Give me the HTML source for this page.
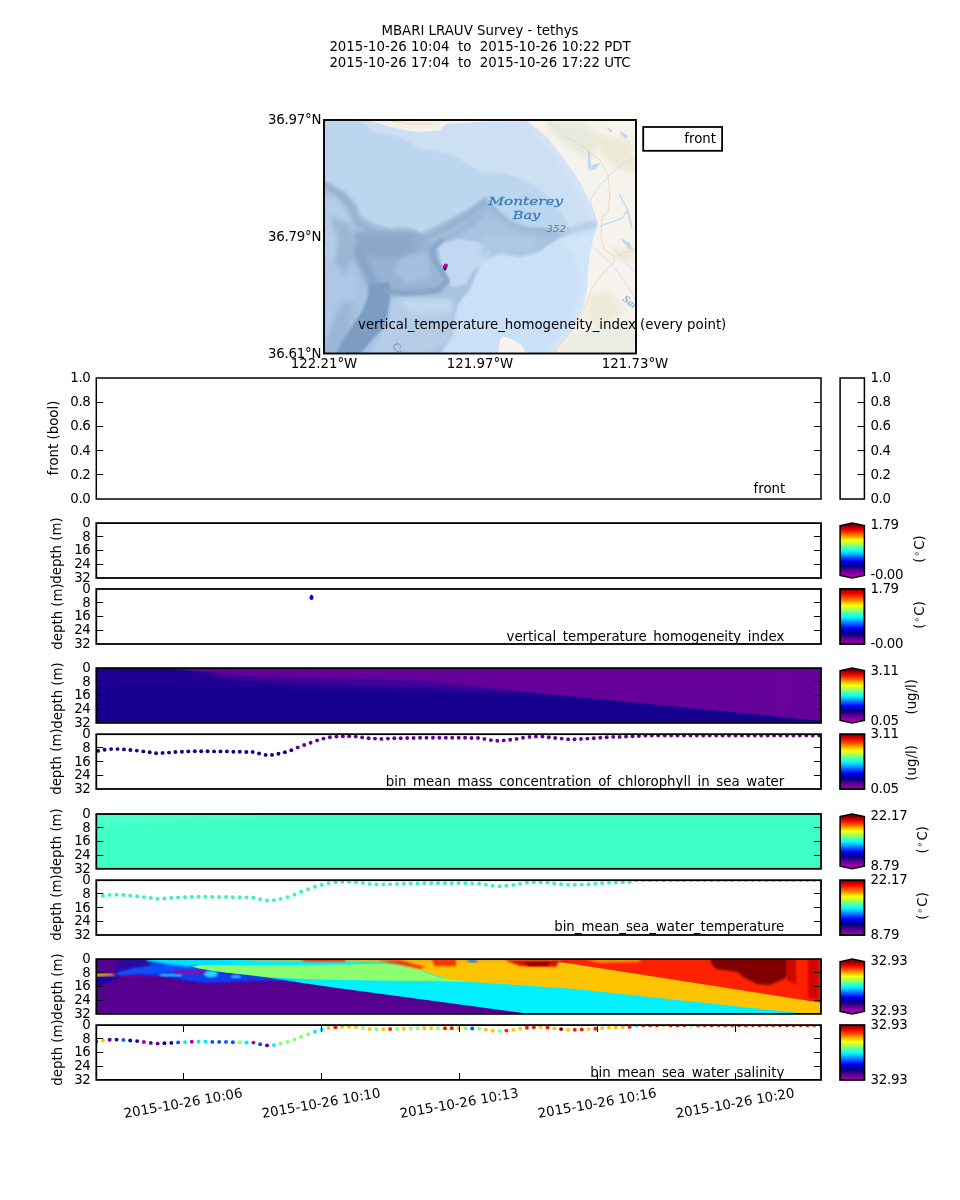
<!DOCTYPE html>
<html lang="en"><head><meta charset="utf-8"><title>MBARI LRAUV Survey - tethys</title>
<style>
html,body{margin:0;padding:0;background:#fff;}
svg{display:block;font-family:'DejaVu Sans', 'Liberation Sans', sans-serif;}
text{white-space:pre;}
</style></head><body>
<svg width="960" height="1200" viewBox="0 0 960 1200" xml:space="preserve">
<defs>
<linearGradient id="cm" x1="0" y1="1" x2="0" y2="0">
<stop offset="0" stop-color="#a800a8"/>
<stop offset="0.10" stop-color="#5a0098"/>
<stop offset="0.19" stop-color="#000080"/>
<stop offset="0.29" stop-color="#0000ff"/>
<stop offset="0.39" stop-color="#0080ff"/>
<stop offset="0.49" stop-color="#00ffff"/>
<stop offset="0.595" stop-color="#80ff80"/>
<stop offset="0.70" stop-color="#ffff00"/>
<stop offset="0.80" stop-color="#ff8000"/>
<stop offset="0.91" stop-color="#ff0000"/>
<stop offset="1" stop-color="#800000"/>
</linearGradient>
<linearGradient id="cme" x1="0" y1="1" x2="0" y2="0">
<stop offset="0" stop-color="#a800a8"/>
<stop offset="0.0474" stop-color="#a800a8"/>
<stop offset="0.1379" stop-color="#5a0098"/>
<stop offset="0.2194" stop-color="#000080"/>
<stop offset="0.3099" stop-color="#0000ff"/>
<stop offset="0.4004" stop-color="#0080ff"/>
<stop offset="0.4909" stop-color="#00ffff"/>
<stop offset="0.5860" stop-color="#80ff80"/>
<stop offset="0.6901" stop-color="#ffff00"/>
<stop offset="0.7806" stop-color="#ff8000"/>
<stop offset="0.8712" stop-color="#ff0000"/>
<stop offset="0.9526" stop-color="#800000"/>
<stop offset="1" stop-color="#800000"/>
</linearGradient>
<filter id="b1" x="-20%" y="-20%" width="140%" height="140%"><feGaussianBlur stdDeviation="1"/></filter>
<filter id="b2" x="-20%" y="-20%" width="140%" height="140%"><feGaussianBlur stdDeviation="2.5"/></filter>
<filter id="b4" x="-20%" y="-20%" width="140%" height="140%"><feGaussianBlur stdDeviation="4"/></filter>
<clipPath id="mapclip"><rect x="324" y="120" width="312" height="233.5"/></clipPath>
</defs>
<text x="480" y="35" text-anchor="middle" font-size="13.33" fill="#000">MBARI LRAUV Survey - tethys</text>
<text x="480" y="51" text-anchor="middle" font-size="13.33" fill="#000">2015-10-26 10:04  to  2015-10-26 10:22 PDT</text>
<text x="480" y="67" text-anchor="middle" font-size="13.33" fill="#000">2015-10-26 17:04  to  2015-10-26 17:22 UTC</text>
<g clip-path="url(#mapclip)">
<rect x="324" y="120" width="312" height="233" fill="#bdd6ef" stroke="none" stroke-width="1"/>
<polygon points="353.0,116.0 375.0,132.0 400.0,137.0 420.0,148.0 453.0,155.0 470.0,165.0 480.0,172.0 505.0,173.0 535.0,185.0 555.0,203.0 567.0,222.0 573.0,240.0 640.0,240.0 640.0,116.0" fill="#cde0f3" opacity="1" filter="url(#b1)"/>
<polygon points="500.0,116.0 530.0,125.0 548.0,145.0 565.0,170.0 580.0,195.0 590.0,215.0 596.0,230.0 640.0,230.0 640.0,116.0" fill="#d6e5f5" opacity="0.8" filter="url(#b2)"/>
<polygon points="480.0,262.0 500.0,255.0 520.0,258.0 540.0,252.0 555.0,240.0 573.0,232.0 640.0,232.0 640.0,360.0 430.0,360.0 452.0,335.0 453.0,322.0 458.0,305.0 470.0,290.0" fill="#c9e0f8" opacity="1" filter="url(#b1)"/>
<polygon points="560.0,240.0 600.0,232.0 600.0,300.0 585.0,330.0 560.0,353.0 545.0,353.0 570.0,320.0 580.0,290.0 575.0,260.0" fill="#d4e6f8" opacity="0.8" filter="url(#b2)"/>
<polygon points="320.0,178.0 334.0,186.7 347.0,193.0 355.7,203.0 360.7,215.0 374.0,223.0 390.7,228.0 402.0,226.7 410.7,228.0 420.7,233.0 430.7,228.0 447.0,220.0 465.7,210.0 480.7,200.0 486.0,196.0 492.0,203.0 500.0,212.0 512.0,222.0 530.0,228.0 545.0,228.0 560.0,232.0 556.0,240.0 540.0,250.0 520.0,256.0 500.0,252.0 482.0,260.0 470.0,288.0 458.0,303.0 453.0,322.0 452.0,335.0 437.0,360.0 320.0,360.0" fill="#a8c3e0" opacity="1" filter="url(#b1)"/>
<polygon points="358.0,232.0 404.0,236.0 432.0,240.0 436.0,262.0 444.0,282.0 440.0,294.0 392.0,297.0 370.0,292.0 360.0,272.0 352.0,250.0" fill="#93b0d2" opacity="0.85" filter="url(#b2)"/>
<polygon points="324.0,196.0 340.0,200.0 352.0,222.0 350.0,250.0 340.0,262.0 324.0,262.0" fill="#b5cfe9" opacity="0.9" filter="url(#b2)"/>
<polygon points="324.0,262.0 348.0,258.0 358.0,280.0 356.0,300.0 342.0,330.0 330.0,353.0 324.0,353.0" fill="#adc8e6" opacity="0.9" filter="url(#b2)"/>
<polygon points="398.0,258.0 425.0,250.0 430.0,264.0 432.0,278.0 408.0,284.0 394.0,274.0" fill="#a6c1e0" opacity="0.9" filter="url(#b2)"/>
<polygon points="437.0,242.0 460.0,239.0 484.0,243.0 492.0,252.0 484.0,262.0 474.0,270.0 466.0,284.0 452.0,288.0 447.0,276.0 441.0,262.0" fill="#c2daf3" opacity="0.95" filter="url(#b1)"/>
<polygon points="392.0,298.0 440.0,296.0 456.0,300.0 450.0,340.0 430.0,353.0 372.0,353.0 385.0,325.0" fill="#b6cee8" opacity="0.9" filter="url(#b2)"/>
<polygon points="400.0,300.0 450.0,300.0 452.0,312.0 410.0,314.0" fill="#c3daf2" opacity="0.8" filter="url(#b2)"/>
<polyline points="324.0,184.0 340.0,194.0 352.0,208.0 357.0,222.0 372.0,231.0 392.0,235.0 412.0,234.0 422.0,239.0 434.0,234.0 452.0,225.0 470.0,214.0 484.0,203.0" fill="none" stroke="#8ea9c9" stroke-width="5" opacity="0.9" stroke-linecap="round" stroke-linejoin="round" filter="url(#b2)"/>
<polyline points="484.0,203.0 495.0,212.0 510.0,224.0 528.0,231.0 545.0,231.0 558.0,234.0" fill="none" stroke="#94afce" stroke-width="4" opacity="0.9" stroke-linecap="round" stroke-linejoin="round" filter="url(#b2)"/>
<polygon points="354.0,232.0 413.0,234.0 418.0,250.0 400.0,258.0 372.0,258.0 356.0,250.0" fill="#8ba7c8" opacity="0.9" filter="url(#b2)"/>
<polygon points="330.0,215.0 350.0,225.0 356.0,250.0 345.0,275.0 335.0,262.0 338.0,240.0" fill="#96b1cf" opacity="0.8" filter="url(#b2)"/>
<polyline points="358.0,252.0 366.0,268.0 374.0,284.0 378.0,296.0" fill="none" stroke="#86a3c6" stroke-width="9" opacity="0.9" stroke-linecap="round" stroke-linejoin="round" filter="url(#b2)"/>
<polygon points="369.0,284.0 390.0,282.0 390.0,300.0 388.0,312.0 385.0,326.7 371.7,340.0 361.7,352.0 358.0,360.0 332.0,360.0 336.0,352.0 341.7,340.0 351.7,326.7 363.0,310.0 368.0,296.0" fill="#7c9cc2" opacity="1" filter="url(#b1)"/>
<polygon points="340.0,305.0 354.0,300.0 348.0,330.0 334.0,360.0 318.0,360.0 330.0,330.0" fill="#93afcf" opacity="0.7" filter="url(#b2)"/>
<polyline points="386.0,291.0 405.0,293.0 425.0,292.0 440.0,289.0 447.0,281.0 442.0,272.0 434.0,259.0 433.0,248.0 441.0,241.0" fill="none" stroke="#88a5c7" stroke-width="5.5" opacity="0.95" stroke-linecap="round" stroke-linejoin="round" filter="url(#b1)"/>
<polyline points="441.0,241.0 455.0,234.0 470.0,224.0 484.0,212.0" fill="none" stroke="#8eaaca" stroke-width="4" opacity="0.8" stroke-linecap="round" stroke-linejoin="round" filter="url(#b2)"/>
<polyline points="484.0,214.0 500.0,222.0 520.0,232.0 540.0,236.0 556.0,236.0 572.0,230.0 586.0,226.0 596.0,224.0" fill="none" stroke="#a5c0de" stroke-width="4" opacity="0.9" stroke-linecap="round" stroke-linejoin="round" filter="url(#b2)"/>
<polygon points="482.0,236.0 535.0,236.0 537.0,249.0 520.0,254.0 500.0,250.0 482.0,256.0" fill="#afc9e4" opacity="0.9" filter="url(#b2)"/>
<polygon points="368.0,116.0 372.0,121.0 390.0,127.0 405.0,130.0 420.0,132.0 440.0,130.0 446.0,124.0 480.0,122.0 527.0,121.0 547.0,137.0 567.0,163.0 580.0,182.0 588.0,198.0 595.0,216.0 598.0,224.0 594.0,236.0 590.0,252.0 588.0,268.0 587.0,290.0 583.0,308.0 573.0,328.0 563.0,342.0 550.0,360.0 640.0,360.0 640.0,116.0" fill="#f5f3ec" opacity="1"/>
<polygon points="497.0,360.0 500.0,340.0 503.0,336.0 513.0,340.0 522.0,345.0 529.0,360.0" fill="#f5f3ec" opacity="1"/>
<polygon points="545.0,122.0 585.0,122.0 600.0,140.0 590.0,160.0 572.0,150.0 556.0,136.0" fill="#e6e9db" opacity="0.9" filter="url(#b2)"/>
<polygon points="595.0,135.0 630.0,140.0 636.0,172.0 615.0,168.0 600.0,152.0" fill="#ece8d2" opacity="0.9" filter="url(#b2)"/>
<polygon points="590.0,295.0 612.0,292.0 622.0,312.0 600.0,330.0 586.0,318.0" fill="#edead8" opacity="0.95" filter="url(#b2)"/>
<polygon points="612.0,250.0 636.0,246.0 636.0,262.0 620.0,262.0" fill="#edead8" opacity="0.9" filter="url(#b2)"/>
<polygon points="570.0,335.0 636.0,322.0 636.0,353.0 556.0,353.0" fill="#e9ece1" opacity="0.95" filter="url(#b2)"/>
<polygon points="380.0,121.0 440.0,121.0 440.0,128.0 400.0,128.0" fill="#f3efe0" opacity="0.9" filter="url(#b1)"/>
<polyline points="392.0,121.0 410.0,124.0 432.0,124.0" fill="none" stroke="#f5cfc0" stroke-width="0.8" opacity="1" stroke-linecap="round" stroke-linejoin="round"/>
<polyline points="548.0,121.0 562.0,135.0 585.0,148.0 600.0,160.0 608.0,175.0 610.0,195.0 608.0,212.0 602.0,218.0 601.0,236.0 604.0,250.0 613.0,255.0 614.0,262.0 604.0,272.0 592.0,288.0 586.0,305.0 578.0,322.0 562.0,343.0 553.0,353.0" fill="none" stroke="#f5d0c0" stroke-width="0.9" opacity="1" stroke-linecap="round" stroke-linejoin="round"/>
<polyline points="614.0,258.0 625.0,252.0 636.0,249.0" fill="none" stroke="#f5d0c0" stroke-width="0.9" opacity="1" stroke-linecap="round" stroke-linejoin="round"/>
<polyline points="597.0,224.0 590.0,200.0 600.0,185.0 615.0,170.0 625.0,162.0 636.0,158.0" fill="none" stroke="#c8dcf1" stroke-width="0.9" opacity="1" stroke-linecap="round" stroke-linejoin="round"/>
<polyline points="594.0,248.0 610.0,262.0 620.0,275.0 630.0,290.0 636.0,300.0" fill="none" stroke="#cadef2" stroke-width="0.9" opacity="1" stroke-linecap="round" stroke-linejoin="round"/>
<polyline points="612.0,247.0 625.0,260.0 634.0,272.0" fill="none" stroke="#cadef2" stroke-width="0.8" opacity="1" stroke-linecap="round" stroke-linejoin="round"/>
<polyline points="600.0,226.0 612.0,222.0 622.0,218.0 628.0,210.0 622.0,200.0 620.0,195.0" fill="none" stroke="#bdd5ef" stroke-width="1.2" opacity="1" stroke-linecap="round" stroke-linejoin="round"/>
<polyline points="628.0,212.0 632.0,228.0" fill="none" stroke="#bdd5ef" stroke-width="1.5" opacity="1" stroke-linecap="round" stroke-linejoin="round"/>
<polygon points="588.0,152.0 590.0,150.0 591.0,168.0 588.0,170.0" fill="#c0d7f0" opacity="1"/>
<polygon points="592.0,165.0 600.0,163.0 596.0,169.0 590.0,171.0" fill="#c0d7f0" opacity="1"/>
<polygon points="606.0,127.0 612.0,130.0 611.0,133.0" fill="#c0d7f0" opacity="1"/>
<polygon points="620.0,131.0 628.0,136.0 626.0,139.0 621.0,135.0" fill="#c0d7f0" opacity="1"/>
<polygon points="620.0,238.0 630.0,243.0 633.0,250.0 628.0,248.0" fill="#c0d7f0" opacity="1"/>
<text transform="translate(488.4 204.7) scale(1.331 1)" font-family="'DejaVu Serif', 'Liberation Serif', serif" font-style="italic" font-size="11.5" fill="#2f74b8" stroke="#2f74b8" stroke-width="0.3" opacity="0.92">Monterey</text>
<text transform="translate(512.8 218.8) scale(1.257 1)" font-family="'DejaVu Serif', 'Liberation Serif', serif" font-style="italic" font-size="11.5" fill="#2f74b8" stroke="#2f74b8" stroke-width="0.3" opacity="0.92">Bay</text>
<text transform="translate(546.6 232) scale(1.135 1)" font-family="'DejaVu Sans', sans-serif" font-style="italic" font-size="9" fill="#6b7785">352</text>
<text x="622" y="300" font-family="'DejaVu Serif', serif" font-style="italic" font-size="9" fill="#5a94d0" transform="rotate(38 622 300)">Sal</text>
<text x="392" y="345" font-family="'DejaVu Sans', sans-serif" font-size="10" fill="#8594a5" transform="rotate(62 392 345)">Ca</text>
<polygon points="443.0,266.0 447.0,266.0 446.5,269.0 445.0,271.0 443.5,269.0" fill="#1a1a2e" opacity="1"/>
<circle cx="445.8" cy="265.7" r="2.2" fill="#c400b0"/>
</g>
<rect x="324.0" y="120.0" width="312" height="233.5" fill="none" stroke="#000" stroke-width="1.9"/>
<text x="321.3" y="124" text-anchor="end" font-size="13.33" fill="#000" letter-spacing="-0.2">36.97°N</text>
<text x="321.3" y="241" text-anchor="end" font-size="13.33" fill="#000" letter-spacing="-0.2">36.79°N</text>
<text x="321.3" y="358" text-anchor="end" font-size="13.33" fill="#000" letter-spacing="-0.2">36.61°N</text>
<text x="324" y="368" text-anchor="middle" font-size="13.33" fill="#000">122.21°W</text>
<text x="480" y="368" text-anchor="middle" font-size="13.33" fill="#000">121.97°W</text>
<text x="635" y="368" text-anchor="middle" font-size="13.33" fill="#000">121.73°W</text>
<text x="358" y="329" text-anchor="start" font-size="13.33" fill="#000">vertical_temperature_homogeneity_index (every point)</text>
<rect x="643.2" y="127" width="78.9" height="23.8" fill="#fff" stroke="#000" stroke-width="1.8"/>
<text x="716" y="143" text-anchor="end" font-size="13.33" fill="#000">front</text>
<rect x="96.3" y="378.0" width="724.7" height="121.0" fill="none" stroke="#000" stroke-width="1.5"/>
<line x1="96.3" y1="402.5" x2="103.3" y2="402.5" stroke="#000" stroke-width="1"/>
<line x1="814.0" y1="402.5" x2="821.0" y2="402.5" stroke="#000" stroke-width="1"/>
<line x1="96.3" y1="426.5" x2="103.3" y2="426.5" stroke="#000" stroke-width="1"/>
<line x1="814.0" y1="426.5" x2="821.0" y2="426.5" stroke="#000" stroke-width="1"/>
<line x1="96.3" y1="450.5" x2="103.3" y2="450.5" stroke="#000" stroke-width="1"/>
<line x1="814.0" y1="450.5" x2="821.0" y2="450.5" stroke="#000" stroke-width="1"/>
<line x1="96.3" y1="474.5" x2="103.3" y2="474.5" stroke="#000" stroke-width="1"/>
<line x1="814.0" y1="474.5" x2="821.0" y2="474.5" stroke="#000" stroke-width="1"/>
<text x="90.3" y="381.9" text-anchor="end" font-size="13.33" fill="#000" letter-spacing="-0.4">1.0</text>
<text x="90.3" y="406.09999999999997" text-anchor="end" font-size="13.33" fill="#000" letter-spacing="-0.4">0.8</text>
<text x="90.3" y="430.29999999999995" text-anchor="end" font-size="13.33" fill="#000" letter-spacing="-0.4">0.6</text>
<text x="90.3" y="454.5" text-anchor="end" font-size="13.33" fill="#000" letter-spacing="-0.4">0.4</text>
<text x="90.3" y="478.7" text-anchor="end" font-size="13.33" fill="#000" letter-spacing="-0.4">0.2</text>
<text x="90.3" y="502.9" text-anchor="end" font-size="13.33" fill="#000" letter-spacing="-0.4">0.0</text>
<text x="58" y="438" text-anchor="middle" font-size="13.33" fill="#000" transform="rotate(-90 58 438)">front (bool)</text>
<text x="785.3" y="493.3" text-anchor="end" font-size="13.33" fill="#000">front</text>
<rect x="840.1" y="378.0" width="24.299999999999955" height="121.0" fill="none" stroke="#000" stroke-width="1.5"/>
<text x="870.5" y="381.9" text-anchor="start" font-size="13.33" fill="#000" letter-spacing="-0.4">1.0</text>
<line x1="857.4" y1="402.5" x2="864.4" y2="402.5" stroke="#000" stroke-width="1"/>
<text x="870.5" y="406.09999999999997" text-anchor="start" font-size="13.33" fill="#000" letter-spacing="-0.4">0.8</text>
<line x1="857.4" y1="426.5" x2="864.4" y2="426.5" stroke="#000" stroke-width="1"/>
<text x="870.5" y="430.29999999999995" text-anchor="start" font-size="13.33" fill="#000" letter-spacing="-0.4">0.6</text>
<line x1="857.4" y1="450.5" x2="864.4" y2="450.5" stroke="#000" stroke-width="1"/>
<text x="870.5" y="454.5" text-anchor="start" font-size="13.33" fill="#000" letter-spacing="-0.4">0.4</text>
<line x1="857.4" y1="474.5" x2="864.4" y2="474.5" stroke="#000" stroke-width="1"/>
<text x="870.5" y="478.7" text-anchor="start" font-size="13.33" fill="#000" letter-spacing="-0.4">0.2</text>
<text x="870.5" y="502.9" text-anchor="start" font-size="13.33" fill="#000" letter-spacing="-0.4">0.0</text>
<clipPath id="acd0"><rect x="96.3" y="589.0" width="724.7" height="55.0"/></clipPath>
<g clip-path="url(#acd0)">
<ellipse cx="311.5" cy="597.4" rx="2.0" ry="2.6" fill="#0000f0"/>
</g>
<text x="90.3" y="527.0" text-anchor="end" font-size="13.33" fill="#000" letter-spacing="-0.45">0</text>
<text x="90.3" y="540.725" text-anchor="end" font-size="13.33" fill="#000" letter-spacing="-0.45">8</text>
<text x="90.3" y="554.4499999999999" text-anchor="end" font-size="13.33" fill="#000" letter-spacing="-0.45">16</text>
<text x="90.3" y="568.175" text-anchor="end" font-size="13.33" fill="#000" letter-spacing="-0.45">24</text>
<text x="90.3" y="581.9" text-anchor="end" font-size="13.33" fill="#000" letter-spacing="-0.45">32</text>
<line x1="96.3" y1="536.5" x2="103.3" y2="536.5" stroke="#000" stroke-width="1"/>
<line x1="814.0" y1="536.5" x2="821.0" y2="536.5" stroke="#000" stroke-width="1"/>
<line x1="96.3" y1="550.5" x2="103.3" y2="550.5" stroke="#000" stroke-width="1"/>
<line x1="814.0" y1="550.5" x2="821.0" y2="550.5" stroke="#000" stroke-width="1"/>
<line x1="96.3" y1="564.5" x2="103.3" y2="564.5" stroke="#000" stroke-width="1"/>
<line x1="814.0" y1="564.5" x2="821.0" y2="564.5" stroke="#000" stroke-width="1"/>
<text x="61.5" y="550.55" text-anchor="middle" font-size="13.33" fill="#000" transform="rotate(-90 61.5 550.55)">depth (m)</text>
<text x="90.3" y="592.9" text-anchor="end" font-size="13.33" fill="#000" letter-spacing="-0.45">0</text>
<text x="90.3" y="606.65" text-anchor="end" font-size="13.33" fill="#000" letter-spacing="-0.45">8</text>
<text x="90.3" y="620.4" text-anchor="end" font-size="13.33" fill="#000" letter-spacing="-0.45">16</text>
<text x="90.3" y="634.15" text-anchor="end" font-size="13.33" fill="#000" letter-spacing="-0.45">24</text>
<text x="90.3" y="647.9" text-anchor="end" font-size="13.33" fill="#000" letter-spacing="-0.45">32</text>
<line x1="96.3" y1="602.5" x2="103.3" y2="602.5" stroke="#000" stroke-width="1"/>
<line x1="814.0" y1="602.5" x2="821.0" y2="602.5" stroke="#000" stroke-width="1"/>
<line x1="96.3" y1="616.5" x2="103.3" y2="616.5" stroke="#000" stroke-width="1"/>
<line x1="814.0" y1="616.5" x2="821.0" y2="616.5" stroke="#000" stroke-width="1"/>
<line x1="96.3" y1="630.5" x2="103.3" y2="630.5" stroke="#000" stroke-width="1"/>
<line x1="814.0" y1="630.5" x2="821.0" y2="630.5" stroke="#000" stroke-width="1"/>
<text x="61.5" y="616.5" text-anchor="middle" font-size="13.33" fill="#000" transform="rotate(-90 61.5 616.5)">depth (m)</text>
<text x="784.3" y="641.0" text-anchor="end" font-size="13.33" fill="#000">vertical_temperature_homogeneity_index</text>
<rect x="96.3" y="523.1" width="724.7" height="54.89999999999998" fill="none" stroke="#000" stroke-width="1.8"/>
<rect x="96.3" y="589.0" width="724.7" height="55.0" fill="none" stroke="#000" stroke-width="1.8"/>
<polygon points="840.1,525.7 852.25,523.1 864.4,525.7 864.4,575.4 852.25,578.0 840.1,575.4" fill="url(#cme)" stroke="#000" stroke-width="1.5" stroke-linejoin="miter"/>
<text x="870.5" y="528.7" text-anchor="start" font-size="13.33" fill="#000" letter-spacing="-0.4">1.79</text>
<text x="870.5" y="578.7" text-anchor="start" font-size="13.33" fill="#000" letter-spacing="-0.4">-0.00</text>
<text x="924.3" y="548.9499999999999" text-anchor="middle" font-size="13.33" fill="#000" transform="rotate(-90 924.3 548.9499999999999)">(<tspan font-size="9.33" dy="-4.7" dx="0.8">&#8728;</tspan><tspan dy="4.7" dx="1.2">C)</tspan></text>
<rect x="840.1" y="589.0" width="24.299999999999955" height="55.0" fill="url(#cm)" stroke="#000" stroke-width="1.9"/>
<text x="870.5" y="592.9" text-anchor="start" font-size="13.33" fill="#000" letter-spacing="-0.4">1.79</text>
<text x="870.5" y="647.9" text-anchor="start" font-size="13.33" fill="#000" letter-spacing="-0.4">-0.00</text>
<text x="924.3" y="614.9" text-anchor="middle" font-size="13.33" fill="#000" transform="rotate(-90 924.3 614.9)">(<tspan font-size="9.33" dy="-4.7" dx="0.8">&#8728;</tspan><tspan dy="4.7" dx="1.2">C)</tspan></text>
<clipPath id="acc1"><rect x="96.3" y="668.1" width="724.7" height="54.799999999999955"/></clipPath>
<g clip-path="url(#acc1)">
<rect x="96.3" y="668.1" width="724.7" height="54.799999999999955" fill="#15008f" stroke="none" stroke-width="1"/>
<polygon points="96.0,668.0 159.0,668.5 250.0,677.0 420.0,681.0 460.0,686.0 600.0,700.0 400.0,693.0 250.0,689.0 140.0,685.0 96.0,687.0" fill="#230093" opacity="0.85" filter="url(#b1)"/>
<polygon points="140.0,666.0 830.0,666.0 830.0,722.0 822.0,721.0 450.0,684.5 420.0,681.0 330.0,679.0 250.0,676.5 200.0,671.5 165.0,668.5" fill="#66009a" opacity="1"/>
<polygon points="190.0,671.0 250.0,676.5 330.0,678.5 420.0,680.5 450.0,684.0 535.0,693.0 440.0,688.5 300.0,684.0 230.0,679.5" fill="#44009a" opacity="0.9" filter="url(#b1)"/>
<polygon points="740.0,672.0 750.0,672.0 750.0,700.0 740.0,700.0" fill="#6b019e" opacity="0.7" filter="url(#b2)"/>
<polygon points="778.0,672.0 790.0,672.0 790.0,705.0 778.0,705.0" fill="#6d02a0" opacity="0.8" filter="url(#b2)"/>
</g>
<clipPath id="acd1"><rect x="96.3" y="734.2" width="724.7" height="54.799999999999955"/></clipPath>
<g clip-path="url(#acd1)">
<circle cx="98.2" cy="750.9" r="1.95" fill="#1a0090"/>
<circle cx="104.6" cy="749.7" r="1.95" fill="#1a0090"/>
<circle cx="111.1" cy="749.1" r="1.95" fill="#1a0090"/>
<circle cx="117.5" cy="749.1" r="1.95" fill="#1a0090"/>
<circle cx="123.9" cy="749.4" r="1.95" fill="#1a0090"/>
<circle cx="130.4" cy="750.0" r="1.95" fill="#1a0090"/>
<circle cx="136.8" cy="750.6" r="1.95" fill="#1a0090"/>
<circle cx="143.3" cy="751.4" r="1.95" fill="#1a0090"/>
<circle cx="149.7" cy="752.3" r="1.95" fill="#1a0090"/>
<circle cx="156.1" cy="753.2" r="1.95" fill="#1a0090"/>
<circle cx="162.6" cy="752.9" r="1.95" fill="#1a0090"/>
<circle cx="169.0" cy="752.6" r="1.95" fill="#1a0090"/>
<circle cx="175.4" cy="752.0" r="1.95" fill="#1a0090"/>
<circle cx="181.9" cy="751.7" r="1.95" fill="#1a0090"/>
<circle cx="188.3" cy="751.4" r="1.95" fill="#1a0090"/>
<circle cx="194.8" cy="751.2" r="1.95" fill="#1a0090"/>
<circle cx="201.2" cy="751.2" r="1.95" fill="#1a0090"/>
<circle cx="207.6" cy="751.2" r="1.95" fill="#1a0090"/>
<circle cx="214.1" cy="751.4" r="1.95" fill="#1a0090"/>
<circle cx="220.5" cy="751.4" r="1.95" fill="#1a0090"/>
<circle cx="226.9" cy="751.4" r="1.95" fill="#1a0090"/>
<circle cx="233.4" cy="751.7" r="1.95" fill="#1a0090"/>
<circle cx="239.8" cy="751.7" r="1.95" fill="#1a0090"/>
<circle cx="246.3" cy="752.0" r="1.95" fill="#1a0090"/>
<circle cx="252.7" cy="752.0" r="1.95" fill="#1a0090"/>
<circle cx="259.1" cy="753.5" r="1.95" fill="#1a0090"/>
<circle cx="265.6" cy="754.9" r="1.95" fill="#1a0090"/>
<circle cx="272.0" cy="754.9" r="1.95" fill="#1a0090"/>
<circle cx="278.4" cy="753.8" r="1.95" fill="#1a0090"/>
<circle cx="284.9" cy="752.3" r="1.95" fill="#1a0090"/>
<circle cx="291.3" cy="750.3" r="1.95" fill="#1a0090"/>
<circle cx="297.7" cy="747.4" r="1.95" fill="#66009a"/>
<circle cx="304.2" cy="745.0" r="1.95" fill="#66009a"/>
<circle cx="310.6" cy="742.7" r="1.95" fill="#66009a"/>
<circle cx="317.1" cy="740.4" r="1.95" fill="#66009a"/>
<circle cx="323.5" cy="738.6" r="1.95" fill="#66009a"/>
<circle cx="329.9" cy="737.2" r="1.95" fill="#66009a"/>
<circle cx="336.4" cy="736.6" r="1.95" fill="#66009a"/>
<circle cx="342.8" cy="736.3" r="1.95" fill="#66009a"/>
<circle cx="349.2" cy="736.3" r="1.95" fill="#66009a"/>
<circle cx="355.7" cy="736.6" r="1.95" fill="#66009a"/>
<circle cx="362.1" cy="737.4" r="1.95" fill="#66009a"/>
<circle cx="368.6" cy="738.3" r="1.95" fill="#66009a"/>
<circle cx="375.0" cy="738.6" r="1.95" fill="#66009a"/>
<circle cx="381.4" cy="738.9" r="1.95" fill="#66009a"/>
<circle cx="387.9" cy="738.6" r="1.95" fill="#66009a"/>
<circle cx="394.3" cy="738.3" r="1.95" fill="#66009a"/>
<circle cx="400.7" cy="738.3" r="1.95" fill="#66009a"/>
<circle cx="407.2" cy="738.0" r="1.95" fill="#66009a"/>
<circle cx="413.6" cy="738.0" r="1.95" fill="#66009a"/>
<circle cx="420.1" cy="737.7" r="1.95" fill="#66009a"/>
<circle cx="426.5" cy="737.7" r="1.95" fill="#66009a"/>
<circle cx="432.9" cy="737.7" r="1.95" fill="#66009a"/>
<circle cx="439.4" cy="737.7" r="1.95" fill="#66009a"/>
<circle cx="445.8" cy="737.7" r="1.95" fill="#66009a"/>
<circle cx="452.2" cy="737.7" r="1.95" fill="#66009a"/>
<circle cx="458.7" cy="737.7" r="1.95" fill="#66009a"/>
<circle cx="465.1" cy="737.7" r="1.95" fill="#66009a"/>
<circle cx="471.5" cy="738.0" r="1.95" fill="#66009a"/>
<circle cx="478.0" cy="738.0" r="1.95" fill="#66009a"/>
<circle cx="484.4" cy="738.9" r="1.95" fill="#66009a"/>
<circle cx="490.9" cy="740.1" r="1.95" fill="#66009a"/>
<circle cx="497.3" cy="740.7" r="1.95" fill="#66009a"/>
<circle cx="503.7" cy="740.4" r="1.95" fill="#66009a"/>
<circle cx="510.2" cy="739.8" r="1.95" fill="#66009a"/>
<circle cx="516.6" cy="738.9" r="1.95" fill="#66009a"/>
<circle cx="523.0" cy="737.7" r="1.95" fill="#66009a"/>
<circle cx="529.5" cy="736.9" r="1.95" fill="#66009a"/>
<circle cx="535.9" cy="736.6" r="1.95" fill="#66009a"/>
<circle cx="542.4" cy="736.6" r="1.95" fill="#66009a"/>
<circle cx="548.8" cy="737.2" r="1.95" fill="#66009a"/>
<circle cx="555.2" cy="738.0" r="1.95" fill="#66009a"/>
<circle cx="561.7" cy="738.6" r="1.95" fill="#66009a"/>
<circle cx="568.1" cy="739.2" r="1.95" fill="#66009a"/>
<circle cx="574.5" cy="739.2" r="1.95" fill="#66009a"/>
<circle cx="581.0" cy="738.9" r="1.95" fill="#66009a"/>
<circle cx="587.4" cy="738.6" r="1.95" fill="#66009a"/>
<circle cx="593.8" cy="738.3" r="1.95" fill="#66009a"/>
<circle cx="600.3" cy="737.7" r="1.95" fill="#66009a"/>
<circle cx="606.7" cy="737.2" r="1.95" fill="#66009a"/>
<circle cx="613.2" cy="736.9" r="1.95" fill="#66009a"/>
<circle cx="619.6" cy="736.9" r="1.95" fill="#66009a"/>
<circle cx="626.0" cy="736.6" r="1.95" fill="#66009a"/>
<circle cx="632.5" cy="736.3" r="1.95" fill="#66009a"/>
<circle cx="638.9" cy="736.0" r="1.95" fill="#66009a"/>
<circle cx="645.3" cy="735.5" r="1.95" fill="#66009a"/>
<circle cx="651.8" cy="735.5" r="1.95" fill="#66009a"/>
<circle cx="658.2" cy="735.5" r="1.95" fill="#66009a"/>
<circle cx="664.7" cy="735.5" r="1.95" fill="#66009a"/>
<circle cx="671.1" cy="735.5" r="1.95" fill="#66009a"/>
<circle cx="677.5" cy="735.5" r="1.95" fill="#66009a"/>
<circle cx="684.0" cy="735.5" r="1.95" fill="#66009a"/>
<circle cx="690.4" cy="735.5" r="1.95" fill="#66009a"/>
<circle cx="696.8" cy="735.5" r="1.95" fill="#66009a"/>
<circle cx="703.3" cy="735.5" r="1.95" fill="#66009a"/>
<circle cx="709.7" cy="735.5" r="1.95" fill="#66009a"/>
<circle cx="716.2" cy="735.5" r="1.95" fill="#66009a"/>
<circle cx="722.6" cy="735.5" r="1.95" fill="#66009a"/>
<circle cx="729.0" cy="735.5" r="1.95" fill="#66009a"/>
<circle cx="735.5" cy="735.5" r="1.95" fill="#66009a"/>
<circle cx="741.9" cy="735.5" r="1.95" fill="#66009a"/>
<circle cx="748.3" cy="735.5" r="1.95" fill="#66009a"/>
<circle cx="754.8" cy="735.5" r="1.95" fill="#66009a"/>
<circle cx="761.2" cy="735.5" r="1.95" fill="#66009a"/>
<circle cx="767.6" cy="735.5" r="1.95" fill="#66009a"/>
<circle cx="774.1" cy="735.5" r="1.95" fill="#66009a"/>
<circle cx="780.5" cy="735.5" r="1.95" fill="#66009a"/>
<circle cx="787.0" cy="735.5" r="1.95" fill="#66009a"/>
<circle cx="793.4" cy="735.5" r="1.95" fill="#66009a"/>
<circle cx="799.8" cy="735.5" r="1.95" fill="#66009a"/>
<circle cx="806.3" cy="735.5" r="1.95" fill="#66009a"/>
<circle cx="812.7" cy="735.5" r="1.95" fill="#66009a"/>
<circle cx="819.1" cy="735.5" r="1.95" fill="#66009a"/>
</g>
<text x="90.3" y="672.0" text-anchor="end" font-size="13.33" fill="#000" letter-spacing="-0.45">0</text>
<text x="90.3" y="685.6999999999999" text-anchor="end" font-size="13.33" fill="#000" letter-spacing="-0.45">8</text>
<text x="90.3" y="699.4" text-anchor="end" font-size="13.33" fill="#000" letter-spacing="-0.45">16</text>
<text x="90.3" y="713.1" text-anchor="end" font-size="13.33" fill="#000" letter-spacing="-0.45">24</text>
<text x="90.3" y="726.8" text-anchor="end" font-size="13.33" fill="#000" letter-spacing="-0.45">32</text>
<line x1="96.3" y1="681.5" x2="103.3" y2="681.5" stroke="#000" stroke-width="1"/>
<line x1="814.0" y1="681.5" x2="821.0" y2="681.5" stroke="#000" stroke-width="1"/>
<line x1="96.3" y1="695.5" x2="103.3" y2="695.5" stroke="#000" stroke-width="1"/>
<line x1="814.0" y1="695.5" x2="821.0" y2="695.5" stroke="#000" stroke-width="1"/>
<line x1="96.3" y1="709.5" x2="103.3" y2="709.5" stroke="#000" stroke-width="1"/>
<line x1="814.0" y1="709.5" x2="821.0" y2="709.5" stroke="#000" stroke-width="1"/>
<text x="61.5" y="695.5" text-anchor="middle" font-size="13.33" fill="#000" transform="rotate(-90 61.5 695.5)">depth (m)</text>
<text x="90.3" y="738.1" text-anchor="end" font-size="13.33" fill="#000" letter-spacing="-0.45">0</text>
<text x="90.3" y="751.8000000000001" text-anchor="end" font-size="13.33" fill="#000" letter-spacing="-0.45">8</text>
<text x="90.3" y="765.5" text-anchor="end" font-size="13.33" fill="#000" letter-spacing="-0.45">16</text>
<text x="90.3" y="779.1999999999999" text-anchor="end" font-size="13.33" fill="#000" letter-spacing="-0.45">24</text>
<text x="90.3" y="792.9" text-anchor="end" font-size="13.33" fill="#000" letter-spacing="-0.45">32</text>
<line x1="96.3" y1="747.5" x2="103.3" y2="747.5" stroke="#000" stroke-width="1"/>
<line x1="814.0" y1="747.5" x2="821.0" y2="747.5" stroke="#000" stroke-width="1"/>
<line x1="96.3" y1="761.5" x2="103.3" y2="761.5" stroke="#000" stroke-width="1"/>
<line x1="814.0" y1="761.5" x2="821.0" y2="761.5" stroke="#000" stroke-width="1"/>
<line x1="96.3" y1="775.5" x2="103.3" y2="775.5" stroke="#000" stroke-width="1"/>
<line x1="814.0" y1="775.5" x2="821.0" y2="775.5" stroke="#000" stroke-width="1"/>
<text x="61.5" y="761.6" text-anchor="middle" font-size="13.33" fill="#000" transform="rotate(-90 61.5 761.6)">depth (m)</text>
<text x="784.3" y="786.0" text-anchor="end" font-size="13.33" fill="#000">bin_mean_mass_concentration_of_chlorophyll_in_sea_water</text>
<rect x="96.3" y="668.1" width="724.7" height="54.799999999999955" fill="none" stroke="#000" stroke-width="1.8"/>
<rect x="96.3" y="734.2" width="724.7" height="54.799999999999955" fill="none" stroke="#000" stroke-width="1.8"/>
<polygon points="840.1,670.7 852.25,668.1 864.4,670.7 864.4,720.3 852.25,722.9 840.1,720.3" fill="url(#cme)" stroke="#000" stroke-width="1.5" stroke-linejoin="miter"/>
<text x="870.5" y="674.9000000000001" text-anchor="start" font-size="13.33" fill="#000" letter-spacing="-0.4">3.11</text>
<text x="870.5" y="724.8000000000001" text-anchor="start" font-size="13.33" fill="#000" letter-spacing="-0.4">0.05</text>
<text x="916.4" y="696.8" text-anchor="middle" font-size="13.33" fill="#000" transform="rotate(-90 916.4 696.8)">(ug/l)</text>
<rect x="840.1" y="734.2" width="24.299999999999955" height="54.799999999999955" fill="url(#cm)" stroke="#000" stroke-width="1.9"/>
<text x="870.5" y="738.1" text-anchor="start" font-size="13.33" fill="#000" letter-spacing="-0.4">3.11</text>
<text x="870.5" y="792.9" text-anchor="start" font-size="13.33" fill="#000" letter-spacing="-0.4">0.05</text>
<text x="916.4" y="762.9" text-anchor="middle" font-size="13.33" fill="#000" transform="rotate(-90 916.4 762.9)">(ug/l)</text>
<clipPath id="acc2"><rect x="96.3" y="814.0" width="724.7" height="54.799999999999955"/></clipPath>
<g clip-path="url(#acc2)">
<rect x="96.3" y="814.0" width="724.7" height="54.799999999999955" fill="#40ffc6" stroke="none" stroke-width="1"/>
<polygon points="96.0,813.0 300.0,813.0 200.0,822.0 96.0,826.0" fill="#4dffcc" opacity="0.8" filter="url(#b2)"/>
</g>
<clipPath id="acd2"><rect x="96.3" y="880.2" width="724.7" height="54.799999999999955"/></clipPath>
<g clip-path="url(#acd2)">
<circle cx="96.0" cy="896.5" r="1.95" fill="#38f2c0"/>
<circle cx="102.9" cy="895.7" r="1.95" fill="#38f2c0"/>
<circle cx="109.7" cy="894.9" r="1.95" fill="#38f2c0"/>
<circle cx="116.6" cy="894.7" r="1.95" fill="#38f2c0"/>
<circle cx="123.4" cy="895.0" r="1.95" fill="#38f2c0"/>
<circle cx="130.2" cy="895.6" r="1.95" fill="#38f2c0"/>
<circle cx="137.1" cy="896.2" r="1.95" fill="#38f2c0"/>
<circle cx="143.9" cy="897.1" r="1.95" fill="#38f2c0"/>
<circle cx="150.8" cy="898.0" r="1.95" fill="#38f2c0"/>
<circle cx="157.6" cy="898.7" r="1.95" fill="#38f2c0"/>
<circle cx="164.4" cy="898.4" r="1.95" fill="#38f2c0"/>
<circle cx="171.3" cy="898.0" r="1.95" fill="#38f2c0"/>
<circle cx="178.1" cy="897.5" r="1.95" fill="#38f2c0"/>
<circle cx="185.0" cy="897.2" r="1.95" fill="#38f2c0"/>
<circle cx="191.8" cy="896.9" r="1.95" fill="#38f2c0"/>
<circle cx="198.6" cy="896.8" r="1.95" fill="#38f2c0"/>
<circle cx="205.5" cy="896.8" r="1.95" fill="#38f2c0"/>
<circle cx="212.3" cy="897.0" r="1.95" fill="#38f2c0"/>
<circle cx="219.2" cy="897.0" r="1.95" fill="#38f2c0"/>
<circle cx="226.0" cy="897.0" r="1.95" fill="#38f2c0"/>
<circle cx="232.8" cy="897.3" r="1.95" fill="#38f2c0"/>
<circle cx="239.7" cy="897.3" r="1.95" fill="#38f2c0"/>
<circle cx="246.5" cy="897.6" r="1.95" fill="#38f2c0"/>
<circle cx="253.4" cy="897.7" r="1.95" fill="#38f2c0"/>
<circle cx="260.2" cy="899.3" r="1.95" fill="#38f2c0"/>
<circle cx="267.0" cy="900.5" r="1.95" fill="#38f2c0"/>
<circle cx="273.9" cy="900.2" r="1.95" fill="#38f2c0"/>
<circle cx="280.7" cy="898.9" r="1.95" fill="#38f2c0"/>
<circle cx="287.5" cy="897.1" r="1.95" fill="#38f2c0"/>
<circle cx="294.4" cy="894.6" r="1.95" fill="#38f2c0"/>
<circle cx="301.2" cy="891.8" r="1.95" fill="#38f2c0"/>
<circle cx="308.1" cy="889.3" r="1.95" fill="#38f2c0"/>
<circle cx="314.9" cy="886.8" r="1.95" fill="#38f2c0"/>
<circle cx="321.7" cy="884.7" r="1.95" fill="#38f2c0"/>
<circle cx="328.6" cy="883.1" r="1.95" fill="#38f2c0"/>
<circle cx="335.4" cy="882.3" r="1.95" fill="#38f2c0"/>
<circle cx="342.3" cy="881.9" r="1.95" fill="#38f2c0"/>
<circle cx="349.1" cy="881.9" r="1.95" fill="#38f2c0"/>
<circle cx="355.9" cy="882.2" r="1.95" fill="#38f2c0"/>
<circle cx="362.8" cy="883.1" r="1.95" fill="#38f2c0"/>
<circle cx="369.6" cy="884.0" r="1.95" fill="#38f2c0"/>
<circle cx="376.5" cy="884.3" r="1.95" fill="#38f2c0"/>
<circle cx="383.3" cy="884.4" r="1.95" fill="#38f2c0"/>
<circle cx="390.1" cy="884.1" r="1.95" fill="#38f2c0"/>
<circle cx="397.0" cy="883.9" r="1.95" fill="#38f2c0"/>
<circle cx="403.8" cy="883.8" r="1.95" fill="#38f2c0"/>
<circle cx="410.7" cy="883.6" r="1.95" fill="#38f2c0"/>
<circle cx="417.5" cy="883.5" r="1.95" fill="#38f2c0"/>
<circle cx="424.3" cy="883.3" r="1.95" fill="#38f2c0"/>
<circle cx="431.2" cy="883.3" r="1.95" fill="#38f2c0"/>
<circle cx="438.0" cy="883.3" r="1.95" fill="#38f2c0"/>
<circle cx="444.9" cy="883.3" r="1.95" fill="#38f2c0"/>
<circle cx="451.7" cy="883.3" r="1.95" fill="#38f2c0"/>
<circle cx="458.5" cy="883.3" r="1.95" fill="#38f2c0"/>
<circle cx="465.4" cy="883.3" r="1.95" fill="#38f2c0"/>
<circle cx="472.2" cy="883.6" r="1.95" fill="#38f2c0"/>
<circle cx="479.1" cy="883.8" r="1.95" fill="#38f2c0"/>
<circle cx="485.9" cy="884.7" r="1.95" fill="#38f2c0"/>
<circle cx="492.7" cy="885.8" r="1.95" fill="#38f2c0"/>
<circle cx="499.6" cy="886.2" r="1.95" fill="#38f2c0"/>
<circle cx="506.4" cy="885.7" r="1.95" fill="#38f2c0"/>
<circle cx="513.3" cy="885.0" r="1.95" fill="#38f2c0"/>
<circle cx="520.1" cy="883.9" r="1.95" fill="#38f2c0"/>
<circle cx="526.9" cy="882.8" r="1.95" fill="#38f2c0"/>
<circle cx="533.8" cy="882.3" r="1.95" fill="#38f2c0"/>
<circle cx="540.6" cy="882.2" r="1.95" fill="#38f2c0"/>
<circle cx="547.5" cy="882.6" r="1.95" fill="#38f2c0"/>
<circle cx="554.3" cy="883.5" r="1.95" fill="#38f2c0"/>
<circle cx="561.1" cy="884.2" r="1.95" fill="#38f2c0"/>
<circle cx="568.0" cy="884.8" r="1.95" fill="#38f2c0"/>
<circle cx="574.8" cy="884.8" r="1.95" fill="#38f2c0"/>
<circle cx="581.7" cy="884.5" r="1.95" fill="#38f2c0"/>
<circle cx="588.5" cy="884.2" r="1.95" fill="#38f2c0"/>
<circle cx="595.3" cy="883.8" r="1.95" fill="#38f2c0"/>
<circle cx="602.2" cy="883.2" r="1.95" fill="#38f2c0"/>
<circle cx="609.0" cy="882.7" r="1.95" fill="#38f2c0"/>
<circle cx="615.9" cy="882.5" r="1.95" fill="#38f2c0"/>
<circle cx="622.7" cy="882.3" r="1.95" fill="#38f2c0"/>
<circle cx="629.5" cy="882.0" r="1.95" fill="#38f2c0"/>
<circle cx="636.4" cy="880.3" r="1.95" fill="#38f2c0"/>
<circle cx="643.2" cy="880.3" r="1.95" fill="#38f2c0"/>
<circle cx="650.1" cy="880.3" r="1.95" fill="#38f2c0"/>
<circle cx="656.9" cy="880.3" r="1.95" fill="#38f2c0"/>
<circle cx="663.7" cy="880.3" r="1.95" fill="#38f2c0"/>
<circle cx="670.6" cy="880.3" r="1.95" fill="#38f2c0"/>
<circle cx="677.4" cy="880.3" r="1.95" fill="#38f2c0"/>
<circle cx="684.3" cy="880.3" r="1.95" fill="#38f2c0"/>
<circle cx="691.1" cy="880.3" r="1.95" fill="#38f2c0"/>
<circle cx="698.0" cy="880.3" r="1.95" fill="#38f2c0"/>
<circle cx="704.8" cy="880.3" r="1.95" fill="#38f2c0"/>
<circle cx="711.6" cy="880.3" r="1.95" fill="#38f2c0"/>
<circle cx="718.5" cy="880.3" r="1.95" fill="#38f2c0"/>
<circle cx="725.3" cy="880.3" r="1.95" fill="#38f2c0"/>
<circle cx="732.2" cy="880.3" r="1.95" fill="#38f2c0"/>
<circle cx="739.0" cy="880.3" r="1.95" fill="#38f2c0"/>
<circle cx="745.8" cy="880.3" r="1.95" fill="#38f2c0"/>
<circle cx="752.7" cy="880.3" r="1.95" fill="#38f2c0"/>
<circle cx="759.5" cy="880.3" r="1.95" fill="#38f2c0"/>
<circle cx="766.4" cy="880.3" r="1.95" fill="#38f2c0"/>
<circle cx="773.2" cy="880.3" r="1.95" fill="#38f2c0"/>
<circle cx="780.0" cy="880.3" r="1.95" fill="#38f2c0"/>
<circle cx="786.9" cy="880.3" r="1.95" fill="#38f2c0"/>
<circle cx="793.7" cy="880.3" r="1.95" fill="#38f2c0"/>
<circle cx="800.6" cy="880.3" r="1.95" fill="#38f2c0"/>
<circle cx="807.4" cy="880.3" r="1.95" fill="#38f2c0"/>
<circle cx="814.2" cy="880.3" r="1.95" fill="#38f2c0"/>
<circle cx="821.1" cy="880.3" r="1.95" fill="#38f2c0"/>
</g>
<text x="90.3" y="817.9" text-anchor="end" font-size="13.33" fill="#000" letter-spacing="-0.45">0</text>
<text x="90.3" y="831.6" text-anchor="end" font-size="13.33" fill="#000" letter-spacing="-0.45">8</text>
<text x="90.3" y="845.3" text-anchor="end" font-size="13.33" fill="#000" letter-spacing="-0.45">16</text>
<text x="90.3" y="858.9999999999999" text-anchor="end" font-size="13.33" fill="#000" letter-spacing="-0.45">24</text>
<text x="90.3" y="872.6999999999999" text-anchor="end" font-size="13.33" fill="#000" letter-spacing="-0.45">32</text>
<line x1="96.3" y1="827.5" x2="103.3" y2="827.5" stroke="#000" stroke-width="1"/>
<line x1="814.0" y1="827.5" x2="821.0" y2="827.5" stroke="#000" stroke-width="1"/>
<line x1="96.3" y1="841.5" x2="103.3" y2="841.5" stroke="#000" stroke-width="1"/>
<line x1="814.0" y1="841.5" x2="821.0" y2="841.5" stroke="#000" stroke-width="1"/>
<line x1="96.3" y1="855.5" x2="103.3" y2="855.5" stroke="#000" stroke-width="1"/>
<line x1="814.0" y1="855.5" x2="821.0" y2="855.5" stroke="#000" stroke-width="1"/>
<text x="61.5" y="841.4" text-anchor="middle" font-size="13.33" fill="#000" transform="rotate(-90 61.5 841.4)">depth (m)</text>
<text x="90.3" y="884.1" text-anchor="end" font-size="13.33" fill="#000" letter-spacing="-0.45">0</text>
<text x="90.3" y="897.8000000000001" text-anchor="end" font-size="13.33" fill="#000" letter-spacing="-0.45">8</text>
<text x="90.3" y="911.5" text-anchor="end" font-size="13.33" fill="#000" letter-spacing="-0.45">16</text>
<text x="90.3" y="925.1999999999999" text-anchor="end" font-size="13.33" fill="#000" letter-spacing="-0.45">24</text>
<text x="90.3" y="938.9" text-anchor="end" font-size="13.33" fill="#000" letter-spacing="-0.45">32</text>
<line x1="96.3" y1="893.5" x2="103.3" y2="893.5" stroke="#000" stroke-width="1"/>
<line x1="814.0" y1="893.5" x2="821.0" y2="893.5" stroke="#000" stroke-width="1"/>
<line x1="96.3" y1="907.5" x2="103.3" y2="907.5" stroke="#000" stroke-width="1"/>
<line x1="814.0" y1="907.5" x2="821.0" y2="907.5" stroke="#000" stroke-width="1"/>
<line x1="96.3" y1="921.5" x2="103.3" y2="921.5" stroke="#000" stroke-width="1"/>
<line x1="814.0" y1="921.5" x2="821.0" y2="921.5" stroke="#000" stroke-width="1"/>
<text x="61.5" y="907.6" text-anchor="middle" font-size="13.33" fill="#000" transform="rotate(-90 61.5 907.6)">depth (m)</text>
<text x="784.3" y="931.3" text-anchor="end" font-size="13.33" fill="#000">bin_mean_sea_water_temperature</text>
<rect x="96.3" y="814.0" width="724.7" height="54.799999999999955" fill="none" stroke="#000" stroke-width="1.8"/>
<rect x="96.3" y="880.2" width="724.7" height="54.799999999999955" fill="none" stroke="#000" stroke-width="1.8"/>
<polygon points="840.1,816.6 852.25,814.0 864.4,816.6 864.4,866.1999999999999 852.25,868.8 840.1,866.1999999999999" fill="url(#cme)" stroke="#000" stroke-width="1.5" stroke-linejoin="miter"/>
<text x="870.5" y="819.6" text-anchor="start" font-size="13.33" fill="#000" letter-spacing="-0.25">22.17</text>
<text x="870.5" y="869.5" text-anchor="start" font-size="13.33" fill="#000" letter-spacing="-0.25">8.79</text>
<text x="927.5" y="839.6999999999999" text-anchor="middle" font-size="13.33" fill="#000" transform="rotate(-90 927.5 839.6999999999999)">(<tspan font-size="9.33" dy="-4.7" dx="0.8">&#8728;</tspan><tspan dy="4.7" dx="1.2">C)</tspan></text>
<rect x="840.1" y="880.2" width="24.299999999999955" height="54.799999999999955" fill="url(#cm)" stroke="#000" stroke-width="1.9"/>
<text x="870.5" y="884.1" text-anchor="start" font-size="13.33" fill="#000" letter-spacing="-0.25">22.17</text>
<text x="870.5" y="938.9" text-anchor="start" font-size="13.33" fill="#000" letter-spacing="-0.25">8.79</text>
<text x="927.5" y="905.9" text-anchor="middle" font-size="13.33" fill="#000" transform="rotate(-90 927.5 905.9)">(<tspan font-size="9.33" dy="-4.7" dx="0.8">&#8728;</tspan><tspan dy="4.7" dx="1.2">C)</tspan></text>
<clipPath id="acc3"><rect x="96.3" y="959.1" width="724.7" height="54.799999999999955"/></clipPath>
<g clip-path="url(#acc3)">
<rect x="96.3" y="959.1" width="724.7" height="54.799999999999955" fill="#55008f" stroke="none" stroke-width="1"/>
<polygon points="190.0,957.0 830.0,957.0 830.0,1015.0 523.0,1015.0 523.0,1013.0 330.0,987.0 265.0,977.5 245.0,975.0 215.0,971.0 200.0,966.0" fill="#00f0ff" opacity="1"/>
<polygon points="146.0,959.0 200.0,966.0 215.0,971.0 245.0,975.0 265.0,977.5 300.0,982.5 270.0,980.5 240.0,981.5 205.0,983.0 185.0,980.0 160.0,976.0 140.0,974.5 150.0,968.0" fill="#0a3cf0" opacity="1" filter="url(#b1)"/>
<polygon points="124.0,958.0 148.0,958.0 150.0,966.0 132.0,969.0 118.0,972.0 116.0,966.0" fill="#1c08a8" opacity="0.9" filter="url(#b2)"/>
<polygon points="116.7,972.5 133.0,968.3 156.7,965.0 183.0,965.8 200.0,968.3 200.0,974.0 183.0,971.7 156.7,972.5 140.0,974.2 118.0,975.8" fill="#0a50ff" opacity="1" filter="url(#b1)"/>
<polygon points="96.0,976.7 120.0,976.7 113.0,980.8 103.0,984.0 96.0,985.5" fill="#1406b0" opacity="0.95" filter="url(#b1)"/>
<polygon points="146.7,958.0 215.0,958.0 240.0,966.0 200.0,965.8 186.7,966.7 166.7,964.2 146.7,960.8" fill="#00e0ff" opacity="1" filter="url(#b1)"/>
<polygon points="120.0,975.6 157.0,975.6 157.0,976.8 120.0,976.8" fill="#a000a0" opacity="0.9" filter="url(#b1)"/>
<polygon points="160.0,974.2 182.0,974.2 182.0,976.2 160.0,976.2" fill="#30e0ff" opacity="1" filter="url(#b1)"/>
<polygon points="173.0,970.0 204.0,970.0 206.0,973.5 176.0,973.5" fill="#a000a0" opacity="1" filter="url(#b1)"/>
<ellipse cx="211" cy="974" rx="7" ry="3.5" fill="#20d8ff" filter="url(#b1)"/>
<ellipse cx="236" cy="976.5" rx="5" ry="1.5" fill="#30c0ff" filter="url(#b1)"/>
<polygon points="96.0,973.8 112.0,973.8 116.0,975.2 96.0,976.4" fill="#ffd800" opacity="1" filter="url(#b1)"/>
<polygon points="200.0,965.0 275.0,965.5 350.0,964.5 375.0,963.7 415.0,965.0 425.0,972.5 440.0,977.5 447.0,978.5 472.0,982.0 440.0,981.2 375.0,980.5 320.0,979.5 270.0,977.5 250.0,975.0 225.0,972.5 200.0,968.7 192.0,966.5" fill="#8cff70" opacity="1"/>
<polygon points="405.0,962.0 409.0,964.0 428.0,973.0 447.0,978.5 472.0,982.0 570.0,988.5 800.0,1013.0 830.0,1016.0 830.0,1003.0 570.0,963.5 500.0,961.0" fill="#ffc400" opacity="1"/>
<polygon points="545.0,957.0 830.0,957.0 830.0,1004.0 822.0,1002.8 570.0,963.5 555.0,962.0" fill="#ff2200" opacity="1"/>
<polygon points="225.0,958.0 560.0,958.0 560.0,962.0 500.0,962.5 430.0,963.0 350.0,961.5 260.0,960.5" fill="#ffb000" opacity="0.95" filter="url(#b1)"/>
<polygon points="300.0,958.0 345.0,958.0 345.0,961.5 305.0,961.5" fill="#f02000" opacity="0.95" filter="url(#b1)"/>
<polygon points="378.0,960.0 400.0,960.0 426.0,967.0 420.0,969.0 396.0,964.0" fill="#ff3000" opacity="0.95" filter="url(#b1)"/>
<polygon points="432.0,959.0 456.0,959.0 456.0,966.0 434.0,966.0" fill="#ff3000" opacity="1" filter="url(#b1)"/>
<polygon points="468.0,960.0 477.0,960.0 477.0,962.5 468.0,962.5" fill="#0080ff" opacity="1" filter="url(#b1)"/>
<polygon points="505.0,960.0 560.0,960.0 556.0,967.0 520.0,966.0" fill="#e01000" opacity="1" filter="url(#b1)"/>
<polygon points="524.0,962.0 550.0,962.0 548.0,966.0 528.0,966.0" fill="#900000" opacity="1" filter="url(#b1)"/>
<polygon points="580.0,958.0 640.0,958.0 640.0,962.0 600.0,963.0" fill="#ffa000" opacity="0.8" filter="url(#b1)"/>
<polygon points="711.0,957.0 787.0,957.0 787.0,977.0 779.0,981.0 770.0,985.0 757.0,984.0 743.0,977.0 738.0,972.0 716.0,969.0 711.0,963.5" fill="#800000" opacity="1" filter="url(#b1)"/>
<polygon points="787.0,957.0 796.0,957.0 796.0,985.0 787.0,980.0" fill="#c00000" opacity="0.8" filter="url(#b1)"/>
<polygon points="808.0,957.0 819.0,957.0 819.0,1000.0 808.0,998.0" fill="#d00000" opacity="0.9" filter="url(#b1)"/>
</g>
<clipPath id="acd3"><rect x="96.3" y="1025.1" width="724.7" height="54.80000000000018"/></clipPath>
<g clip-path="url(#acd3)">
<circle cx="96.0" cy="1041.4" r="1.95" fill="#0a0a9a"/>
<circle cx="102.9" cy="1040.6" r="1.95" fill="#ffc400"/>
<circle cx="109.7" cy="1039.8" r="1.95" fill="#5a0094"/>
<circle cx="116.6" cy="1039.6" r="1.95" fill="#0a0a9a"/>
<circle cx="123.4" cy="1039.9" r="1.95" fill="#0a50ff"/>
<circle cx="130.2" cy="1040.5" r="1.95" fill="#0a0a9a"/>
<circle cx="137.1" cy="1041.1" r="1.95" fill="#0a0a9a"/>
<circle cx="143.9" cy="1042.0" r="1.95" fill="#b000a8"/>
<circle cx="150.8" cy="1042.9" r="1.95" fill="#5a0094"/>
<circle cx="157.6" cy="1043.6" r="1.95" fill="#5a0094"/>
<circle cx="164.4" cy="1043.3" r="1.95" fill="#0a0a9a"/>
<circle cx="171.3" cy="1042.9" r="1.95" fill="#0a0a9a"/>
<circle cx="178.1" cy="1042.4" r="1.95" fill="#0a50ff"/>
<circle cx="185.0" cy="1042.1" r="1.95" fill="#00e8ff"/>
<circle cx="191.8" cy="1041.8" r="1.95" fill="#b000a8"/>
<circle cx="198.6" cy="1041.7" r="1.95" fill="#00e8ff"/>
<circle cx="205.5" cy="1041.7" r="1.95" fill="#00e8ff"/>
<circle cx="212.3" cy="1041.9" r="1.95" fill="#0a50ff"/>
<circle cx="219.2" cy="1041.9" r="1.95" fill="#0a50ff"/>
<circle cx="226.0" cy="1041.9" r="1.95" fill="#0a50ff"/>
<circle cx="232.8" cy="1042.2" r="1.95" fill="#0a50ff"/>
<circle cx="239.7" cy="1042.2" r="1.95" fill="#86ff72"/>
<circle cx="246.5" cy="1042.5" r="1.95" fill="#00e8ff"/>
<circle cx="253.4" cy="1042.6" r="1.95" fill="#b000a8"/>
<circle cx="260.2" cy="1044.2" r="1.95" fill="#0a50ff"/>
<circle cx="267.0" cy="1045.4" r="1.95" fill="#5a0094"/>
<circle cx="273.9" cy="1045.1" r="1.95" fill="#00e8ff"/>
<circle cx="280.7" cy="1043.8" r="1.95" fill="#86ff72"/>
<circle cx="287.5" cy="1042.0" r="1.95" fill="#86ff72"/>
<circle cx="294.4" cy="1039.5" r="1.95" fill="#86ff72"/>
<circle cx="301.2" cy="1036.7" r="1.95" fill="#86ff72"/>
<circle cx="308.1" cy="1034.2" r="1.95" fill="#86ff72"/>
<circle cx="314.9" cy="1031.7" r="1.95" fill="#00e8ff"/>
<circle cx="321.7" cy="1029.6" r="1.95" fill="#00e8ff"/>
<circle cx="328.6" cy="1028.0" r="1.95" fill="#ffc400"/>
<circle cx="335.4" cy="1027.2" r="1.95" fill="#ff1a00"/>
<circle cx="342.3" cy="1026.8" r="1.95" fill="#ffc400"/>
<circle cx="349.1" cy="1026.8" r="1.95" fill="#ffc400"/>
<circle cx="355.9" cy="1027.1" r="1.95" fill="#ffc400"/>
<circle cx="362.8" cy="1028.0" r="1.95" fill="#86ff72"/>
<circle cx="369.6" cy="1028.9" r="1.95" fill="#ffc400"/>
<circle cx="376.5" cy="1029.2" r="1.95" fill="#86ff72"/>
<circle cx="383.3" cy="1029.3" r="1.95" fill="#ffc400"/>
<circle cx="390.1" cy="1029.0" r="1.95" fill="#ff1a00"/>
<circle cx="397.0" cy="1028.8" r="1.95" fill="#86ff72"/>
<circle cx="403.8" cy="1028.7" r="1.95" fill="#ffc400"/>
<circle cx="410.7" cy="1028.5" r="1.95" fill="#86ff72"/>
<circle cx="417.5" cy="1028.4" r="1.95" fill="#86ff72"/>
<circle cx="424.3" cy="1028.2" r="1.95" fill="#ffc400"/>
<circle cx="431.2" cy="1028.2" r="1.95" fill="#ffc400"/>
<circle cx="438.0" cy="1028.2" r="1.95" fill="#86ff72"/>
<circle cx="444.9" cy="1028.2" r="1.95" fill="#ff1a00"/>
<circle cx="451.7" cy="1028.2" r="1.95" fill="#ff1a00"/>
<circle cx="458.5" cy="1028.2" r="1.95" fill="#ffc400"/>
<circle cx="465.4" cy="1028.2" r="1.95" fill="#86ff72"/>
<circle cx="472.2" cy="1028.5" r="1.95" fill="#0a50ff"/>
<circle cx="479.1" cy="1028.7" r="1.95" fill="#86ff72"/>
<circle cx="485.9" cy="1029.6" r="1.95" fill="#ffc400"/>
<circle cx="492.7" cy="1030.7" r="1.95" fill="#ffc400"/>
<circle cx="499.6" cy="1031.1" r="1.95" fill="#86ff72"/>
<circle cx="506.4" cy="1030.6" r="1.95" fill="#ff1a00"/>
<circle cx="513.3" cy="1029.9" r="1.95" fill="#ffc400"/>
<circle cx="520.1" cy="1028.8" r="1.95" fill="#ffc400"/>
<circle cx="526.9" cy="1027.7" r="1.95" fill="#ff1a00"/>
<circle cx="533.8" cy="1027.2" r="1.95" fill="#ff1a00"/>
<circle cx="540.6" cy="1027.1" r="1.95" fill="#ffc400"/>
<circle cx="547.5" cy="1027.5" r="1.95" fill="#ff1a00"/>
<circle cx="554.3" cy="1028.4" r="1.95" fill="#ffc400"/>
<circle cx="561.1" cy="1029.1" r="1.95" fill="#800000"/>
<circle cx="568.0" cy="1029.7" r="1.95" fill="#ffc400"/>
<circle cx="574.8" cy="1029.7" r="1.95" fill="#ff1a00"/>
<circle cx="581.7" cy="1029.4" r="1.95" fill="#ff1a00"/>
<circle cx="588.5" cy="1029.1" r="1.95" fill="#ffc400"/>
<circle cx="595.3" cy="1028.7" r="1.95" fill="#ff1a00"/>
<circle cx="602.2" cy="1028.1" r="1.95" fill="#ffc400"/>
<circle cx="609.0" cy="1027.6" r="1.95" fill="#ffc400"/>
<circle cx="615.9" cy="1027.4" r="1.95" fill="#ffc400"/>
<circle cx="622.7" cy="1027.2" r="1.95" fill="#ffc400"/>
<circle cx="629.5" cy="1026.9" r="1.95" fill="#ff1a00"/>
<circle cx="636.4" cy="1025.2" r="1.95" fill="#00e8ff"/>
<circle cx="643.2" cy="1025.2" r="1.95" fill="#ff1a00"/>
<circle cx="650.1" cy="1025.2" r="1.95" fill="#ff1a00"/>
<circle cx="656.9" cy="1025.2" r="1.95" fill="#ff1a00"/>
<circle cx="663.7" cy="1025.2" r="1.95" fill="#ffc400"/>
<circle cx="670.6" cy="1025.2" r="1.95" fill="#ff1a00"/>
<circle cx="677.4" cy="1025.2" r="1.95" fill="#ff1a00"/>
<circle cx="684.3" cy="1025.2" r="1.95" fill="#ff1a00"/>
<circle cx="691.1" cy="1025.2" r="1.95" fill="#86ff72"/>
<circle cx="698.0" cy="1025.2" r="1.95" fill="#ff1a00"/>
<circle cx="704.8" cy="1025.2" r="1.95" fill="#ff1a00"/>
<circle cx="711.6" cy="1025.2" r="1.95" fill="#ff1a00"/>
<circle cx="718.5" cy="1025.2" r="1.95" fill="#ff1a00"/>
<circle cx="725.3" cy="1025.2" r="1.95" fill="#ff1a00"/>
<circle cx="732.2" cy="1025.2" r="1.95" fill="#ff1a00"/>
<circle cx="739.0" cy="1025.2" r="1.95" fill="#ff1a00"/>
<circle cx="745.8" cy="1025.2" r="1.95" fill="#ff1a00"/>
<circle cx="752.7" cy="1025.2" r="1.95" fill="#ff1a00"/>
<circle cx="759.5" cy="1025.2" r="1.95" fill="#ff1a00"/>
<circle cx="766.4" cy="1025.2" r="1.95" fill="#ff1a00"/>
<circle cx="773.2" cy="1025.2" r="1.95" fill="#ff1a00"/>
<circle cx="780.0" cy="1025.2" r="1.95" fill="#ff1a00"/>
<circle cx="786.9" cy="1025.2" r="1.95" fill="#ff1a00"/>
<circle cx="793.7" cy="1025.2" r="1.95" fill="#ff1a00"/>
<circle cx="800.6" cy="1025.2" r="1.95" fill="#ff1a00"/>
<circle cx="807.4" cy="1025.2" r="1.95" fill="#ff1a00"/>
<circle cx="814.2" cy="1025.2" r="1.95" fill="#ff1a00"/>
<circle cx="821.1" cy="1025.2" r="1.95" fill="#ff1a00"/>
</g>
<text x="90.3" y="963.0" text-anchor="end" font-size="13.33" fill="#000" letter-spacing="-0.45">0</text>
<text x="90.3" y="976.6999999999999" text-anchor="end" font-size="13.33" fill="#000" letter-spacing="-0.45">8</text>
<text x="90.3" y="990.4" text-anchor="end" font-size="13.33" fill="#000" letter-spacing="-0.45">16</text>
<text x="90.3" y="1004.1" text-anchor="end" font-size="13.33" fill="#000" letter-spacing="-0.45">24</text>
<text x="90.3" y="1017.8" text-anchor="end" font-size="13.33" fill="#000" letter-spacing="-0.45">32</text>
<line x1="96.3" y1="972.5" x2="103.3" y2="972.5" stroke="#000" stroke-width="1"/>
<line x1="814.0" y1="972.5" x2="821.0" y2="972.5" stroke="#000" stroke-width="1"/>
<line x1="96.3" y1="986.5" x2="103.3" y2="986.5" stroke="#000" stroke-width="1"/>
<line x1="814.0" y1="986.5" x2="821.0" y2="986.5" stroke="#000" stroke-width="1"/>
<line x1="96.3" y1="1000.5" x2="103.3" y2="1000.5" stroke="#000" stroke-width="1"/>
<line x1="814.0" y1="1000.5" x2="821.0" y2="1000.5" stroke="#000" stroke-width="1"/>
<text x="61.5" y="986.5" text-anchor="middle" font-size="13.33" fill="#000" transform="rotate(-90 61.5 986.5)">depth (m)</text>
<text x="90.3" y="1029.0" text-anchor="end" font-size="13.33" fill="#000" letter-spacing="-0.45">0</text>
<text x="90.3" y="1042.7" text-anchor="end" font-size="13.33" fill="#000" letter-spacing="-0.45">8</text>
<text x="90.3" y="1056.4" text-anchor="end" font-size="13.33" fill="#000" letter-spacing="-0.45">16</text>
<text x="90.3" y="1070.1000000000001" text-anchor="end" font-size="13.33" fill="#000" letter-spacing="-0.45">24</text>
<text x="90.3" y="1083.8000000000002" text-anchor="end" font-size="13.33" fill="#000" letter-spacing="-0.45">32</text>
<line x1="96.3" y1="1038.5" x2="103.3" y2="1038.5" stroke="#000" stroke-width="1"/>
<line x1="814.0" y1="1038.5" x2="821.0" y2="1038.5" stroke="#000" stroke-width="1"/>
<line x1="96.3" y1="1052.5" x2="103.3" y2="1052.5" stroke="#000" stroke-width="1"/>
<line x1="814.0" y1="1052.5" x2="821.0" y2="1052.5" stroke="#000" stroke-width="1"/>
<line x1="96.3" y1="1066.5" x2="103.3" y2="1066.5" stroke="#000" stroke-width="1"/>
<line x1="814.0" y1="1066.5" x2="821.0" y2="1066.5" stroke="#000" stroke-width="1"/>
<text x="61.5" y="1052.5" text-anchor="middle" font-size="13.33" fill="#000" transform="rotate(-90 61.5 1052.5)">depth (m)</text>
<text x="784.3" y="1076.9" text-anchor="end" font-size="13.33" fill="#000">bin_mean_sea_water_salinity</text>
<rect x="96.3" y="959.1" width="724.7" height="54.799999999999955" fill="none" stroke="#000" stroke-width="1.8"/>
<rect x="96.3" y="1025.1" width="724.7" height="54.80000000000018" fill="none" stroke="#000" stroke-width="1.8"/>
<polygon points="840.1,961.7 852.25,959.1 864.4,961.7 864.4,1011.3 852.25,1013.9 840.1,1011.3" fill="url(#cme)" stroke="#000" stroke-width="1.5" stroke-linejoin="miter"/>
<text x="870.5" y="964.7" text-anchor="start" font-size="13.33" fill="#000" letter-spacing="-0.25">32.93</text>
<text x="870.5" y="1014.6" text-anchor="start" font-size="13.33" fill="#000" letter-spacing="-0.25">32.93</text>
<rect x="840.1" y="1025.1" width="24.299999999999955" height="54.80000000000018" fill="url(#cm)" stroke="#000" stroke-width="1.9"/>
<text x="870.5" y="1029.0" text-anchor="start" font-size="13.33" fill="#000" letter-spacing="-0.25">32.93</text>
<text x="870.5" y="1083.8000000000002" text-anchor="start" font-size="13.33" fill="#000" letter-spacing="-0.25">32.93</text>
<line x1="183.5" y1="1025.1" x2="183.5" y2="1032.1" stroke="#000" stroke-width="1"/>
<line x1="183.5" y1="1072.9" x2="183.5" y2="1079.9" stroke="#000" stroke-width="1"/>
<text x="183.9" y="1107.5" text-anchor="middle" font-size="13.33" fill="#000" transform="rotate(-10 183.9 1107.5)">2015-10-26 10:06</text>
<line x1="321.5" y1="1025.1" x2="321.5" y2="1032.1" stroke="#000" stroke-width="1"/>
<line x1="321.5" y1="1072.9" x2="321.5" y2="1079.9" stroke="#000" stroke-width="1"/>
<text x="321.9" y="1107.5" text-anchor="middle" font-size="13.33" fill="#000" transform="rotate(-10 321.9 1107.5)">2015-10-26 10:10</text>
<line x1="459.5" y1="1025.1" x2="459.5" y2="1032.1" stroke="#000" stroke-width="1"/>
<line x1="459.5" y1="1072.9" x2="459.5" y2="1079.9" stroke="#000" stroke-width="1"/>
<text x="459.9" y="1107.5" text-anchor="middle" font-size="13.33" fill="#000" transform="rotate(-10 459.9 1107.5)">2015-10-26 10:13</text>
<line x1="597.5" y1="1025.1" x2="597.5" y2="1032.1" stroke="#000" stroke-width="1"/>
<line x1="597.5" y1="1072.9" x2="597.5" y2="1079.9" stroke="#000" stroke-width="1"/>
<text x="597.9" y="1107.5" text-anchor="middle" font-size="13.33" fill="#000" transform="rotate(-10 597.9 1107.5)">2015-10-26 10:16</text>
<line x1="735.5" y1="1025.1" x2="735.5" y2="1032.1" stroke="#000" stroke-width="1"/>
<line x1="735.5" y1="1072.9" x2="735.5" y2="1079.9" stroke="#000" stroke-width="1"/>
<text x="735.9" y="1107.5" text-anchor="middle" font-size="13.33" fill="#000" transform="rotate(-10 735.9 1107.5)">2015-10-26 10:20</text>
</svg>
</body></html>
